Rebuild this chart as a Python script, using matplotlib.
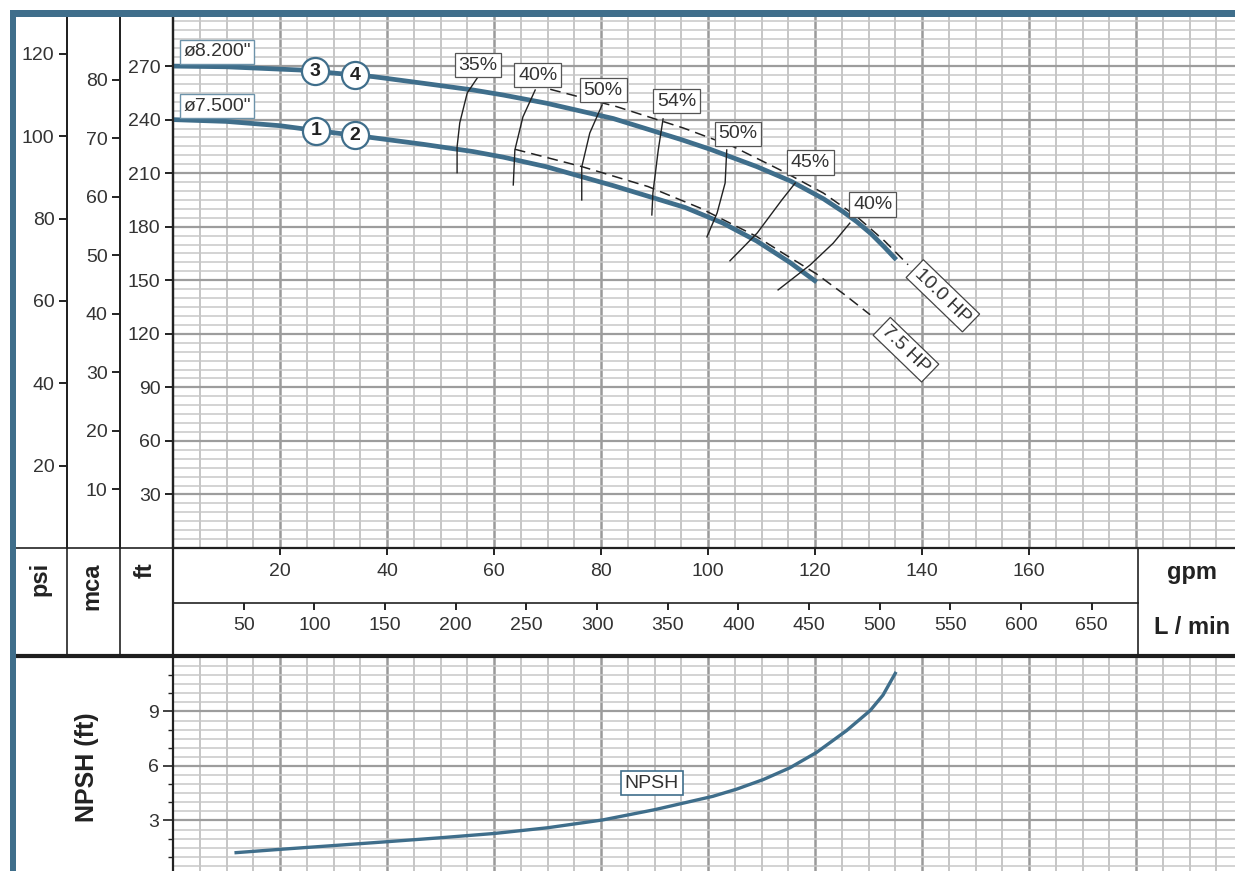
import numpy as np
import matplotlib
matplotlib.use("Agg")
import matplotlib.pyplot as plt
from matplotlib.lines import Line2D
from matplotlib.patches import Rectangle

plt.rcParams["font.family"] = ["Liberation Sans", "DejaVu Sans"]

# --- data (gpm, ft) ---
q_820 = [0, 10, 23.7, 37.4, 46.7, 56.1, 61.7, 69.8, 82.3, 94.8, 100.4, 109.1, 115.5,
         121.6, 125.2, 127.8, 130.5, 133, 135.2]
h_820 = [270, 269.6, 267.8, 264.1, 260.4, 256.6, 253.8, 249.2, 240.6, 229.0, 223.4, 213.7, 205.5,
         195.6, 188.5, 182.8, 176.0, 168.5, 161.5]

q_750 = [0, 10, 20, 26.7, 34, 46.7, 56.1, 61.7, 69.8, 82.3, 95.7, 102.8, 109.1, 115.3, 120.3]
h_750 = [240, 239, 236.6, 233.9, 231.2, 226.2, 222.1, 219.0, 213.6, 203.0, 190.8, 182.0, 172.0, 160.0, 149.0]

q_10hp = [70.5, 82.9, 95.4, 104.7, 114.1, 121.6, 127.8, 133.0, 137.4]
h_10hp = [257.0, 247.3, 235.3, 224.9, 210.9, 198.8, 185.7, 172.0, 158.7]

q_75hp = [63.9, 76.4, 88.8, 98.5, 109.1, 114.1, 120.3, 125.5, 130.3]
h_75hp = [223.4, 213.7, 202.5, 190.5, 174.5, 165.0, 153.5, 142.0, 130.7]

eff_labels = ["35%", "40%", "50%", "54%", "50%", "45%", "40%"]
eff_label_q = [57.0, 68.2, 80.4, 94.2, 105.6, 119.1, 130.8]
eff_label_h = [270.6, 265.0, 256.6, 250.4, 232.0, 215.8, 192.3]
eff_q = [
    [57.0, 55.0, 53.6, 53.1, 53.1],
    [67.7, 65.4, 63.9, 63.6],
    [80.2, 77.9, 76.4, 76.4],
    [91.6, 90.7, 89.7, 89.5],
    [103.5, 103.2, 101.7, 99.8],
    [116.3, 113.8, 109.2, 104.1],
    [126.5, 123.4, 119.1, 113.1],
]
eff_h = [
    [263.9, 255.0, 238.2, 224.8, 210.3],
    [256.6, 241.5, 223.0, 203.4],
    [248.2, 232.5, 213.5, 195.0],
    [240.4, 223.0, 198.9, 186.6],
    [223.0, 204.5, 187.7, 174.3],
    [204.5, 195.0, 176.5, 160.9],
    [182.0, 170.8, 158.6, 144.6],
]

marker_q = [26.7, 34.0, 26.5, 34.0]
marker_h = [233.9, 231.2, 267.0, 265.0]
marker_txt = ["1", "2", "3", "4"]

npsh_q = [11.8, 19.9, 30, 39.9, 50, 60.2, 70, 80.3, 90.1, 100.9, 105.4, 110.3, 115.3,
          120.3, 125.9, 130.3, 132.7, 135]
npsh_h = [1.23, 1.41, 1.62, 1.83, 2.05, 2.29, 2.6, 3.03, 3.6, 4.33, 4.73, 5.25, 5.9,
          6.75, 7.95, 9.05, 9.9, 11.1]

ft_ticks = list(range(30, 271, 30))
psi_ticks = list(range(20, 121, 20))
mca_ticks = list(range(10, 81, 10))
gpm_ticks = list(range(20, 161, 20))
lmin_ticks = list(range(50, 651, 50))
npsh_ticks = [3, 6, 9]

BLUE = "#3f6e8b"
INK = "#222222"
TXT = "#333333"
W, H = 1235, 871


def fx(x):
    return x / W


def fy(y):
    return 1 - y / H


def draw_grid(a, h_step, h_major, h_max):
    for q in np.arange(5, 200, 5):
        major = q % 20 == 0
        a.axvline(q, color="#9a9a9a" if major else "#c2c2c2", lw=1.8 if major else 1.3, zorder=0)
    for h in np.arange(h_step, h_max, h_step):
        major = abs(h / h_major - round(h / h_major)) < 1e-6
        a.axhline(h, color="#9d9d9d" if major else "#c8c8c8", lw=1.6 if major else 1.1, zorder=0)


fig = plt.figure(figsize=(W / 100, H / 100), dpi=100)

# ---------------- head chart ----------------
ax = fig.add_axes([fx(173), fy(548), fx(1235) - fx(173), fy(17) - fy(548)])
ax.set_xlim(0, 198.5)
ax.set_ylim(0, 297.5)
draw_grid(ax, 5, 30, 298)

ax.plot(q_820, h_820, color=BLUE, lw=3.4, zorder=3, solid_capstyle="butt", solid_joinstyle="round")
ax.plot(q_750, h_750, color=BLUE, lw=3.4, zorder=3, solid_capstyle="butt", solid_joinstyle="round")

ax.plot(q_10hp, h_10hp, color=INK, lw=1.1, ls=(0, (7, 4)), zorder=4)
ax.plot(q_75hp, h_75hp, color=INK, lw=1.1, ls=(0, (7, 4)), zorder=4)

for qs, hs in zip(eff_q, eff_h):
    ax.plot(qs, hs, color=INK, lw=1.0, zorder=4)
for t, q, h in zip(eff_labels, eff_label_q, eff_label_h):
    ax.text(q, h, t, fontsize=14, color=TXT, ha="center", va="center", zorder=6,
            bbox=dict(boxstyle="square,pad=0.2", fc="white", ec="#555555", lw=0.9))

ax.text(143.9, 141.3, "10.0 HP", fontsize=14, color=TXT, rotation=-44,
        rotation_mode="anchor", ha="center", va="center", zorder=6,
        bbox=dict(boxstyle="square,pad=0.2", fc="white", ec="#444444", lw=0.9))
ax.text(137.0, 111.1, "7.5 HP", fontsize=14, color=TXT, rotation=-44,
        rotation_mode="anchor", ha="center", va="center", zorder=6,
        bbox=dict(boxstyle="square,pad=0.2", fc="white", ec="#444444", lw=0.9))

ax.text(1.9, 278, "ø8.200\"", fontsize=14, color=TXT, ha="left", va="center", zorder=6,
        bbox=dict(boxstyle="square,pad=0.18", fc="white", ec="#6d93aa", lw=1.0))
ax.text(1.9, 247.6, "ø7.500\"", fontsize=14, color=TXT, ha="left", va="center", zorder=6,
        bbox=dict(boxstyle="square,pad=0.18", fc="white", ec="#6d93aa", lw=1.0))

ax.plot(marker_q, marker_h, ls="none", marker="o", ms=19.5, mfc="white", mec=BLUE, mew=1.6, zorder=7)
for t, q, h in zip(marker_txt, marker_q, marker_h):
    ax.text(q, h, t, fontsize=14, fontweight="bold", color=INK, ha="center", va="center", zorder=8)

for s in ["top", "right"]:
    ax.spines[s].set_visible(False)
for s in ["left", "bottom"]:
    ax.spines[s].set_linewidth(1.6)
    ax.spines[s].set_color(INK)

ax.set_yticks(ft_ticks)
ax.set_xticks(gpm_ticks)
ax.tick_params(axis="y", direction="out", length=6, width=1.4, pad=3, labelsize=14,
               color=INK, labelcolor=TXT)
ax.tick_params(axis="x", direction="out", length=5, width=1.4, pad=6, labelsize=14,
               color=INK, labelcolor=TXT)

sec_mca = ax.secondary_yaxis((120 - 173) / 1062, functions=(lambda f: f * 0.3048, lambda m: m / 0.3048))
sec_mca.set_yticks(mca_ticks)
sec_psi = ax.secondary_yaxis((67 - 173) / 1062, functions=(lambda f: f / 2.307, lambda p: p * 2.307))
sec_psi.set_yticks(psi_ticks)
for sec in (sec_mca, sec_psi):
    sec.tick_params(direction="out", length=6, width=1.4, pad=3, labelsize=14,
                    color=INK, labelcolor=TXT)
    sec.spines["left"].set_linewidth(1.4)
    sec.spines["left"].set_color(INK)

sec_l = ax.secondary_xaxis(-(603 - 548) / 531, functions=(lambda q: q * 3.785, lambda l: l / 3.785))
sec_l.set_xticks(lmin_ticks)
sec_l.tick_params(direction="out", length=5, width=1.4, pad=5, labelsize=14,
                  color=INK, labelcolor=TXT)
sec_l.spines["bottom"].set_visible(False)

# ---------------- NPSH chart ----------------
ax2 = fig.add_axes([fx(173), 0, fx(1235) - fx(173), fy(657)])
ax2.set_xlim(0, 198.5)
ax2.set_ylim(0.22, 12.0)
draw_grid(ax2, 0.5, 3, 12)
ax2.plot(npsh_q, npsh_h, color=BLUE, lw=2.4, zorder=3, solid_joinstyle="round")
ax2.text(89.5, 5.06, "NPSH", fontsize=14, color=TXT, ha="center", va="center", zorder=6,
         bbox=dict(boxstyle="square,pad=0.2", fc="white", ec=BLUE, lw=1.2))
for s in ["top", "right", "bottom"]:
    ax2.spines[s].set_visible(False)
ax2.spines["left"].set_linewidth(1.6)
ax2.spines["left"].set_color(INK)
ax2.set_xticks([])
ax2.set_yticks(npsh_ticks)
ax2.set_yticks(np.arange(1, 12, 1), minor=True)
ax2.tick_params(axis="y", which="major", direction="out", length=7, width=1.2, pad=3,
                labelsize=14, color=INK, labelcolor=TXT)
ax2.tick_params(axis="y", which="minor", direction="out", length=3.5, width=1.0, color=INK)


# ---------------- table lines and labels ----------------
def hline(y, x0, x1, lw=1.2, color=INK):
    fig.add_artist(Line2D([fx(x0), fx(x1)], [fy(y), fy(y)], transform=fig.transFigure, color=color, lw=lw))


def vline(x, y0, y1, lw=1.2, color=INK):
    fig.add_artist(Line2D([fx(x), fx(x)], [fy(y0), fy(y1)], transform=fig.transFigure, color=color, lw=lw))


vline(67, 17, 655)
vline(120, 17, 655)
vline(173, 17, 657, lw=1.6)
vline(1138, 548, 655)
hline(548, 16, 173)
hline(603, 173, 1138)
hline(656, 16, 1235, lw=3.0, color="#1e1e1e")

fig.text(fx(40), fy(562), "psi", rotation=90, fontsize=17, fontweight="bold", color=INK, ha="center", va="top")
fig.text(fx(92), fy(562), "mca", rotation=90, fontsize=17, fontweight="bold", color=INK, ha="center", va="top")
fig.text(fx(145), fy(562), "ft", rotation=90, fontsize=17, fontweight="bold", color=INK, ha="center", va="top")
fig.text(fx(1192), fy(573), "gpm", fontsize=17, fontweight="bold", color=INK, ha="center", va="center")
fig.text(fx(1192), fy(628), "L / min", fontsize=17, fontweight="bold", color=INK, ha="center", va="center")
fig.text(fx(87), fy(767), "NPSH (ft)", rotation=90, fontsize=18, fontweight="bold", color=INK,
         ha="center", va="center")

# blue frame
fig.add_artist(Rectangle((fx(10), 0), fx(16) - fx(10), fy(10), transform=fig.transFigure,
                         color=BLUE, lw=0, zorder=10))
fig.add_artist(Rectangle((fx(10), fy(17)), 1 - fx(10), fy(10) - fy(17), transform=fig.transFigure,
                         color=BLUE, lw=0, zorder=10))

fig.savefig("out.png", dpi=100)
